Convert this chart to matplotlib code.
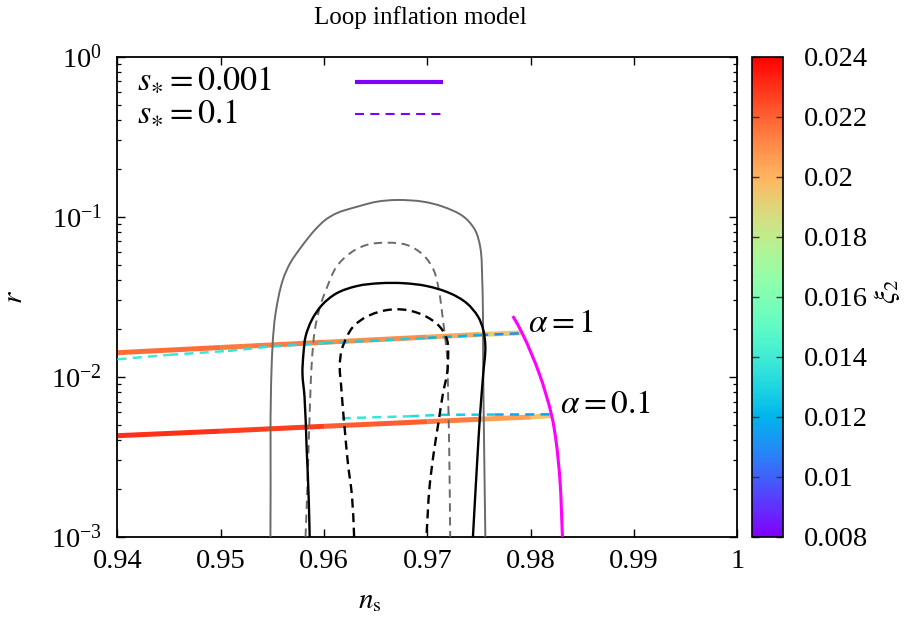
import numpy as np
import matplotlib
matplotlib.use('Agg')
import matplotlib.pyplot as plt
from matplotlib.collections import LineCollection
from matplotlib.patches import PathPatch
from matplotlib.path import Path
from matplotlib.ticker import FuncFormatter, LogLocator, FixedLocator, NullFormatter
import matplotlib.colors as mcolors
import matplotlib.cm as cm

plt.rcParams['font.family'] = ['Liberation Serif', 'DejaVu Serif']
plt.rcParams['mathtext.fontset'] = 'stix'
plt.rcParams['lines.scale_dashes'] = False

# ---------------- data ----------------
# Observational contours (n_s, r)
outer_solid_ns = [0.9548, 0.9550, 0.9553, 0.9560, 0.9567, 0.9578, 0.9591, 0.9601, 0.9612, 0.9632,
                  0.9651, 0.9670, 0.9696, 0.9715, 0.9735, 0.9746, 0.9751, 0.9753, 0.9754, 0.9756]
outer_solid_r = [0.001, 0.0154, 0.0249, 0.0402, 0.0511, 0.0649, 0.0826, 0.0953, 0.1051, 0.1155,
                 0.1241, 0.1272, 0.1241, 0.1155, 0.1, 0.0826, 0.0649, 0.0402, 0.00954, 0.001]

outer_dash_ns = [0.9582, 0.9584, 0.9586, 0.9588, 0.9591, 0.9596, 0.9603, 0.9612, 0.9625, 0.9641,
                 0.9661, 0.9680, 0.9696, 0.9706, 0.9711, 0.9715, 0.9719, 0.9720, 0.9721, 0.9722]
outer_dash_r = [0.001, 0.00226, 0.00591, 0.01213, 0.0196, 0.0274, 0.0365, 0.0487, 0.0591, 0.0666,
                0.0688, 0.0666, 0.0576, 0.0464, 0.0348, 0.0226, 0.0133, 0.0075, 0.00365, 0.001]

inner_solid_ns = [0.9586, 0.9585, 0.9583, 0.9581, 0.9579, 0.9580, 0.9582, 0.9588, 0.9598, 0.9612,
                  0.9632, 0.9654, 0.9677, 0.9699, 0.9722, 0.9738, 0.9749, 0.9754, 0.9756, 0.9754,
                  0.9751, 0.9748, 0.9744]
inner_solid_r = [0.001, 0.00178, 0.00365, 0.0075, 0.0105, 0.0140, 0.0178, 0.0226, 0.0281, 0.0332,
                 0.0369, 0.0384, 0.0384, 0.0369, 0.0332, 0.0288, 0.0237, 0.0196, 0.0154, 0.0105,
                 0.00591, 0.00288, 0.001]

inner_dash_ns = [0.9629, 0.9627, 0.9623, 0.9620, 0.9618, 0.9616, 0.9615, 0.9617, 0.9622, 0.9628,
                 0.9641, 0.9661, 0.9680, 0.9699, 0.9712, 0.9719, 0.9720, 0.9719, 0.9715, 0.9711,
                 0.9706, 0.9702, 0.9699]
inner_dash_r = [0.001, 0.00178, 0.00288, 0.00464, 0.00649, 0.00954, 0.01155, 0.01468, 0.0178, 0.0205,
                0.0237, 0.0261, 0.0261, 0.0237, 0.0205, 0.01695, 0.0133, 0.0105, 0.00787, 0.00536,
                0.00332, 0.00205, 0.001]

# Model predictions, colour = xi_2
a1_s001_ns = [0.94, 0.95, 0.96, 0.97, 0.975, 0.9791]
a1_s001_r = [0.01413, 0.01523, 0.01641, 0.01769, 0.01837, 0.0188]
a1_s001_xi = [0.0219, 0.0216, 0.0212, 0.0207, 0.0200, 0.0186]

a01_s001_ns = [0.94, 0.95, 0.96, 0.97, 0.975, 0.98, 0.982]
a01_s001_r = [0.00428, 0.00457, 0.00490, 0.00524, 0.00542, 0.0056, 0.00572]
a01_s001_xi = [0.0231, 0.0229, 0.0225, 0.0217, 0.0211, 0.0200, 0.0192]

a1_s01_ns = [0.94, 0.945, 0.9507, 0.955, 0.96, 0.97, 0.975, 0.9791]
a1_s01_r = [0.01285, 0.0137, 0.0145, 0.0155, 0.0162, 0.0175, 0.0182, 0.0187]
a1_s01_xi = [0.0141, 0.0139, 0.0137, 0.0134, 0.0131, 0.0124, 0.0117, 0.0102]

a01_s01_ns = [0.9617, 0.9683, 0.9713, 0.9765, 0.9819]
a01_s01_r = [0.0055, 0.00566, 0.00578, 0.0058, 0.00582]
a01_s01_xi = [0.0140, 0.0134, 0.0130, 0.0124, 0.0108]

# end-point curve (magenta)
end_ns = [0.97826, 0.97913, 0.98083, 0.98203, 0.98243, 0.98282, 0.98306]
end_r = [0.02395, 0.01894, 0.0104, 0.00568, 0.00402, 0.00226, 0.001]

x_ticks = [0.94, 0.95, 0.96, 0.97, 0.98, 0.99, 1.0]
cb_ticks = [0.008, 0.010, 0.012, 0.014, 0.016, 0.018, 0.020, 0.022, 0.024]
legend_labels = [r'$s_{\ast}=0.001$', r'$s_{\ast}=0.1$']
alpha_labels = [r'$\alpha=1$', r'$\alpha=0.1$']

# ---------------- figure ----------------
fig = plt.figure(figsize=(9.2, 6.17), dpi=100)
ax = fig.add_axes([0.1277, 0.1301, 0.6739, 0.778])
ax.set_yscale('log')
ax.set_xlim(0.94, 1.0)
ax.set_ylim(1e-3, 1.0)

cmap = plt.get_cmap('rainbow')
norm = mcolors.Normalize(vmin=0.008, vmax=0.024)


def grad_line(ns, r, xi, lw, ls, z):
    pts = np.column_stack([ns, r])
    segs = np.stack([pts[:-1], pts[1:]], axis=1)
    xi = np.asarray(xi)
    cvals = 0.5 * (xi[:-1] + xi[1:])
    lc = LineCollection(segs, cmap=cmap, norm=norm, linewidths=lw,
                        linestyles=ls, capstyle='butt', zorder=z)
    lc.set_array(cvals)
    ax.add_collection(lc)


def smooth_curve(ns, r, **kw):
    """Smooth Bezier rendering through the data points (tangents from neighbours),
    computed in (ns, log r) space, scaled so both axes have similar weight."""
    sx, sy = 10330.0, 160.0
    p = np.column_stack([np.asarray(ns, float) * sx, np.log10(np.asarray(r, float)) * sy])
    n = len(p)
    tang = np.zeros_like(p)
    for i in range(n):
        d = np.zeros(2)
        if i > 0:
            v = p[i] - p[i - 1]
            d += v / np.hypot(*v)
        if i < n - 1:
            v = p[i + 1] - p[i]
            d += v / np.hypot(*v)
        tang[i] = d / np.hypot(*d)
    verts = [p[0]]
    codes = [Path.MOVETO]
    for i in range(n - 1):
        L = np.hypot(*(p[i + 1] - p[i]))
        verts += [p[i] + tang[i] * L / 3.0, p[i + 1] - tang[i + 1] * L / 3.0, p[i + 1]]
        codes += [Path.CURVE4] * 3
    v = np.array(verts)
    v[:, 0] = v[:, 0] / sx
    v[:, 1] = 10 ** (v[:, 1] / sy)
    patch = PathPatch(Path(v, codes), fill=False, transform=ax.transData, **kw)
    ax.add_patch(patch)


grad_line(a1_s001_ns, a1_s001_r, a1_s001_xi, 3.6, 'solid', 2)
grad_line(a01_s001_ns, a01_s001_r, a01_s001_xi, 3.6, 'solid', 2)
grad_line(a1_s01_ns, a1_s01_r, a1_s01_xi, 1.8, (0, (6.5, 4.5)), 3)
grad_line(a01_s01_ns, a01_s01_r, a01_s01_xi, 1.8, (0, (6.5, 4.5)), 3)

gray = '#6a6a6a'
smooth_curve(outer_solid_ns, outer_solid_r, edgecolor=gray, lw=1.4, zorder=4)
smooth_curve(outer_dash_ns, outer_dash_r, edgecolor=gray, lw=1.4, ls=(0, (6, 4)), zorder=4)
smooth_curve(inner_solid_ns, inner_solid_r, edgecolor='black', lw=1.7, zorder=5)
smooth_curve(inner_dash_ns, inner_dash_r, edgecolor='black', lw=1.7, ls=(0, (6.5, 4)), zorder=5)

smooth_curve(end_ns, end_r, edgecolor='#ff00ff', lw=2.2, zorder=6)

ax.text(0.97977, 0.0191, alpha_labels[0], fontsize=24, ha='left', va='baseline', zorder=7)
ax.text(0.98284, 0.0059, alpha_labels[1], fontsize=24, ha='left', va='baseline', zorder=7)

# legend (manual, text then sample line)
purple = cmap(0.0)
ax.text(0.031, 0.932, legend_labels[0], transform=ax.transAxes, fontsize=24.5,
        ha='left', va='baseline')
ax.text(0.031, 0.8625, legend_labels[1], transform=ax.transAxes, fontsize=24.5,
        ha='left', va='baseline')
ax.plot([0.383, 0.5245], [0.948, 0.948], transform=ax.transAxes, color=purple, lw=3.0,
        solid_capstyle='butt')
ax.plot([0.383, 0.5245], [0.880, 0.880], transform=ax.transAxes, color=purple, lw=1.5,
        ls=(0, (6.5, 4.5)))

# axes styling
ax.xaxis.set_major_locator(FixedLocator(x_ticks))
ax.xaxis.set_major_formatter(FuncFormatter(lambda v, p: '%g' % round(v, 4)))
ax.yaxis.set_major_locator(LogLocator(base=10, numticks=10))
ax.yaxis.set_minor_locator(LogLocator(base=10, subs=np.arange(2, 10), numticks=20))
ax.yaxis.set_minor_formatter(NullFormatter())
ax.tick_params(axis='both', which='major', direction='in', length=5.8, width=1.0,
               labelsize=20.5, top=True, right=True)
ax.tick_params(axis='y', which='minor', direction='in', length=3.0, width=0.9,
               left=True, right=True)
ax.tick_params(axis='x', which='major', pad=9)
ax.tick_params(axis='y', which='major', pad=11)
for s in ax.spines.values():
    s.set_linewidth(1.3)

ax.set_xlabel(r'$n_{\rm s}$', fontsize=21)
ax.xaxis.set_label_coords(0.407, -0.108)
ax.xaxis.label.set_va('top')
ax.set_ylabel(r'$r$', fontsize=21)
ax.yaxis.set_label_coords(-0.165, 0.5)
ax.yaxis.label.set_va('center')

fig.text(0.4565, 1 - 18 / 617, 'Loop inflation model', ha='center', va='center', fontsize=18)

# colorbar
cax = fig.add_axes([752 / 920, (617 - 537) / 617, 31 / 920, 480.3 / 617])
sm = cm.ScalarMappable(norm=norm, cmap=cmap)
cb = fig.colorbar(sm, cax=cax)
cb.set_ticks(cb_ticks)
cb.ax.yaxis.set_major_formatter(FuncFormatter(lambda v, p: '%g' % round(v, 4)))
cb.ax.tick_params(direction='in', length=5.0, width=1.0, color='#333333',
                  left=True, right=True, labelsize=20.5, pad=15)
cb.ax.minorticks_off()
cb.outline.set_linewidth(1.2)
fig.text(887 / 920, 1 - 292 / 617, r'$\xi_2$', rotation=90, fontsize=21,
         ha='center', va='center')

fig.savefig('out.png', dpi=100)
